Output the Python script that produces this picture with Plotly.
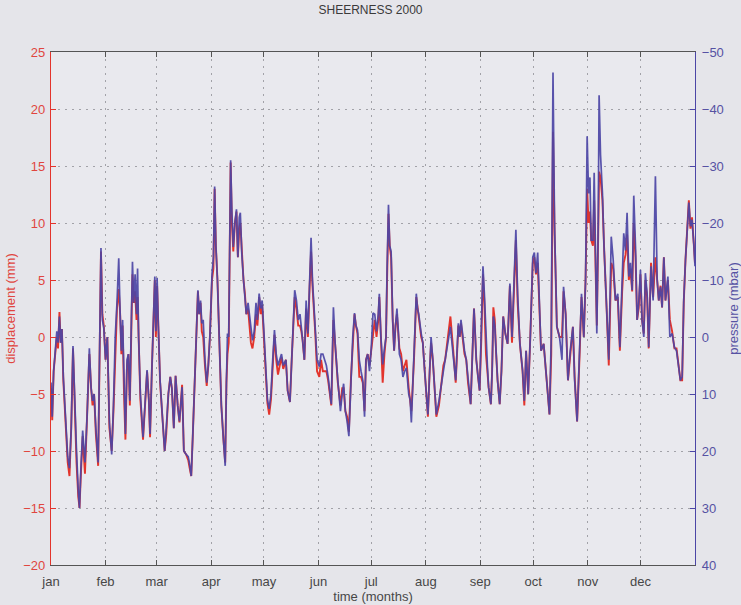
import plotly.graph_objects as go

# Day of year 2000 (0 = 1 Jan) at which each sample was read
days = [
    0, 0.7, 1.5, 2.5, 3.3, 4, 4.8, 5.5, 6.2, 7, 8, 9.5, 10.5, 11.5, 12.5, 13.3, 14.5, 15.5, 16.2, 17,
    18, 19.3, 20.5, 21.8, 22.8, 23.6, 24.5, 25.5, 26.8, 27.8, 28.4, 29.2, 30,
    31, 32, 33.2, 34.5, 35.5, 36.5, 37.5, 38.5, 39.3, 40, 40.7, 41.5, 42.3, 43.2, 44, 44.8, 45.5, 46.3,
    47, 47.8, 48.6, 49.2, 49.8, 50.8, 52.3, 53.3, 54.6, 55.6, 56.3, 57.3, 58.3, 59,
    59.6, 60.3, 61, 62, 63.3, 64.6, 65.5, 66.7, 67.8, 68.7, 69.8, 70.8, 72, 73, 74.5, 75.5, 76.8, 78,
    78.8, 79.7, 80.5, 81.5, 82.5, 83.5, 84.2, 85, 85.7, 86.5, 87.5, 88.5, 89.4, 90.3,
    91.5, 92.3, 93, 93.7, 94.6, 95.5, 96.8, 98, 99, 99.7, 100.3, 101, 101.6, 102.1, 102.8, 103.6, 104.5,
    105.4, 106.2, 107, 107.6, 108.4, 109.4, 110.2, 111, 112, 112.8, 113.6, 114.5, 115.5, 116.5, 117.3,
    118.3, 119.2, 120, 121, 122, 123, 124, 125,
    126, 127, 128, 129, 130, 131, 132, 133.5, 134.5, 135.8, 136.8, 137.8, 138.5, 139.5, 140.5, 141.5,
    142.3, 143, 144, 145, 146, 147, 147.8, 148.6, 149.3, 150.2, 151.2,
    152.5, 153.5, 154.5, 155.5, 156.5, 157.5, 158.5, 159.3, 160.5, 161.5, 163, 164.5, 165.5, 166.3,
    167.3, 168.3, 169.3, 170.5, 171.5, 172.5, 173.3, 174.2, 175.2, 176.2, 177.2, 178.2, 179, 180, 181,
    182, 183, 184, 185, 186, 186.6, 187.5, 188.5, 189.5, 190.4, 191, 191.8, 192.5, 193.3, 194.2, 195,
    195.8, 196.6, 197.3, 198, 199, 200, 201, 202, 203.3, 204.1, 204.8, 205.5, 206.3, 207.6, 208.3, 209,
    210.4, 211.3, 212.3,
    213.2, 214.2, 215.2, 216, 217, 218, 219, 220.5, 222, 223, 224, 225.7, 227, 228.5, 229.3, 230,
    231.5, 232.3, 233, 234, 235, 236, 237, 238.5, 239.5, 240.4, 241, 241.7, 242.7, 243.6,
    244.6, 245.5, 246.3, 247.2, 248, 248.7, 250, 250.7, 251.4, 252.2, 253, 253.8, 255, 256, 257, 258.2,
    259.5, 260.8, 262, 263.3, 264.2, 265.2, 266.5, 268, 269, 270, 271.2, 272.4, 273.1,
    273.8, 274.7, 275.6, 276.6, 277.6, 278.5, 280, 281.4, 282.4, 283.3, 284.3, 284.7, 285.3, 286.2,
    287, 287.5, 289, 290.4, 291.3, 292.5, 293.8, 295.1, 296.6, 297.6, 299, 300.5, 301.5, 302.8, 303.8,
    304.7, 305.5, 306.3, 307, 308, 308.7, 309.5, 310.2, 311, 311.5, 312.3, 313.4, 314.3, 315.2, 315.8,
    317, 318.4, 319.5, 320.8, 322.1, 323.3, 324.6, 325.5, 326.5, 327.4, 328.4, 329.3, 330.3, 331.2,
    332.2, 333.1, 334,
    335, 335.9, 336.9, 337.8, 338.8, 339.7, 341, 342.2, 343.5, 344.5, 345.4, 346.4, 347.3, 348.3,
    349.2, 350.6, 351.7, 353, 354.3, 355.5, 356.8, 357.7, 358.7, 359.6, 360.6, 361.5, 362.5, 363.4,
    364.3, 365.3, 366,
]

# Ground displacement (mm), left axis
displacement = [
    -4.5, -7.3, -3.0, -1.5, 0.0, -1.0, 2.2, -0.5, 0.7, -3.8, -6.5, -11.0, -12.2, -8.0, -1.0, -5.5, -11.0, -14.0, -15.0, -12.0,
    -8.7, -12.0, -7.5, -1.5, -4.5, -6.0, -5.0, -8.5, -11.3, 0.5, 7.5, 2.0, 1.0,
    -2.0, 0.0, -8.0, -10.0, -6.5, -1.0, 2.5, 4.2, 2.0, -1.5, 1.0, -5.0, -9.0, -2.5, -1.5, -6.0, -1.0, 5.5,
    3.0, 4.0, 1.5, 3.5, 0.0, -5.5, -9.0, -6.5, -3.0, -5.5, -8.8, -3.0, 3.0, 5.0,
    0.0, 4.5, 1.0, -4.0, -7.0, -10.0, -8.5, -5.0, -3.5, -4.5, -8.0, -3.4, -6.0, -7.5, -4.2, -10.0, -10.3, -10.8,
    -11.5, -12.2, -9.0, -4.0, 0.0, 4.0, 2.0, 3.0, 0.5, 0.0, -2.5, -4.3, -2.5, 0.0,
    5.0, 6.0, 13.0, 8.0, 5.0, 0.0, -6.0, -9.0, -11.0, -4.0, -1.5, -0.5, 8.0, 15.3, 10.0, 7.5, 10.0,
    11.0, 7.0, 9.5, 10.0, 7.2, 5.0, 3.8, 2.0, 2.5, 1.0, -0.5, -1.0, 0.0, 2.0, 1.0,
    3.5, 2.0, 2.8, 0.3, -3.0, -5.8, -6.8, -5.5,
    -2.5, 0.2, -2.0, -3.3, -2.5, -1.8, -2.8, -2.0, -4.7, -5.7, -2.0, 2.0, 3.5, 2.5, 1.0, 1.0,
    0.5, -0.3, -2.0, 2.5, 0.0, 4.5, 7.5, 4.5, 3.0, 0.3, -3.0,
    -3.5, -2.0, -3.0, -3.0, -3.0, -3.8, -5.0, -6.0, 1.5, -1.0, -4.0, -6.0, -4.5, -4.5,
    -6.5, -7.0, -8.3, -3.5, -0.5, 2.0, 1.0, 0.3, -3.5, -3.5, -4.0, -6.5, -2.0, -1.5, -2.5,
    -1.0, 0.5, 1.5, 0.0, 1.5, 3.5, 0.0, -4.0, -1.5, 0.0, 5.0, 10.8, 8.0, 7.0, 1.5, -1.2,
    1.0, 2.0, 0.5, -1.0, -1.5, -3.0, -2.5, -2.0, -4.5, -5.5, -6.5, -4.5, -2.0, 3.5, 2.5, 1.8,
    0.0, -0.5, -3.0,
    -5.0, -7.0, -3.0, -0.5, -2.0, -5.0, -7.0, -6.0, -3.5, -2.5, -2.0, 0.0, 1.8, -1.0, -2.5, -4.0,
    1.0, 0.0, 1.2, 0.0, -1.5, -2.0, -4.0, -5.9, -1.5, 2.5, 0.5, -2.0, -3.5, -4.7,
    0.0, 5.5, 3.0, -1.5, -3.0, -4.4, -5.9, -3.0, 2.6, 1.5, -1.5, -3.8, -5.9, -3.0, 1.8, 0.3,
    -0.6, 4.5, -0.5, 5.5, 8.5, 3.0, -0.6, -3.0, -6.0, -1.2, -5.0, 0.0, 3.5,
    6.5, 7.0, 5.5, 6.5, 2.5, -1.2, -0.6, -3.2, -5.0, -6.8, -1.5, 12.0, 18.0, 9.0,
    4.0, 0.9, 0.0, 0.0, 4.0, 2.0, -3.8, -1.5, 0.9, -3.5, -7.4, -1.2, 3.5, 0.0, 5.0,
    13.0, 10.0, 11.0, 8.5, 8.0, 12.0, 6.0, 1.0, 9.0, 14.5, 14.0, 12.0, 8.0, 5.0, 2.4,
    -2.5, 6.5, 6.0, 3.2, 3.5, -1.2, 4.0, 6.5, 7.2, 9.0, 5.0, 6.0, 4.0, 10.0,
    7.0, 1.5, 2.5,
    5.5, 1.5, 0.3, 5.0, 3.5, -1.0, 6.5, 3.5, 7.0, 5.0, 3.2, 4.5, 2.6, 7.0,
    3.2, 5.0, 1.5, 0.5, -1.0, -1.0, -3.0, -3.8, -3.8, 3.0, 6.8, 9.5, 12.0, 9.5,
    10.5, 8.2, 6.5,
]

# Air pressure anomaly (mbar), right axis (reversed)
pressure = [
    8.0, 14.0, 6.0, 2.0, -1.0, 1.0, -3.6, 1.0, -1.4, 7.0, 12.0, 21.0, 23.0, 16.0, 1.6, 10.0, 20.0, 27.0, 30.0, 23.0,
    16.4, 22.0, 14.0, 2.0, 9.0, 11.2, 10.0, 16.0, 22.0, -2.0, -15.6, -3.0, -1.6,
    4.0, 0.0, 15.0, 20.6, 12.0, 0.0, -6.0, -13.8, -4.0, 2.4, -3.0, 9.0, 17.0, 4.0, 3.0, 11.2, 2.0, -13.2,
    -6.0, -11.0, -4.0, -12.0, 0.0, 10.0, 17.6, 13.0, 5.8, 11.0, 17.0, 6.0, -7.0, -10.6,
    -1.0, -10.4, -2.0, 7.6, 14.0, 20.0, 16.0, 10.0, 7.0, 9.0, 16.0, 6.8, 12.0, 14.8, 8.8, 20.0, 20.6, 21.0,
    22.4, 24.4, 18.0, 8.0, 0.0, -8.2, -4.0, -6.4, -2.4, -3.0, 4.0, 8.0, 5.0, 0.0,
    -11.0, -14.0, -26.4, -16.0, -10.0, 0.0, 12.0, 18.0, 22.6, 8.0, -0.6, 0.0, -16.0, -31.0, -22.0, -15.8, -20.0,
    -22.4, -14.0, -21.0, -21.8, -14.8, -10.0, -7.0, -4.0, -6.0, -3.6, -1.0, 0.6, -1.0, -6.0, -3.0,
    -7.6, -5.0, -6.4, -1.0, 6.0, 11.0, 12.6, 10.0,
    4.0, -1.2, 3.0, 5.0, 4.0, 3.0, 5.0, 4.0, 9.4, 11.4, 4.0, -5.0, -8.2, -6.4, -3.0, -4.0,
    -2.0, 0.6, 4.0, -6.4, -0.6, -10.6, -17.4, -10.0, -6.4, -0.6, 4.0,
    5.2, 3.0, 3.0, 4.0, 5.0, 7.0, 10.0, 11.8, -5.2, 1.2, 7.6, 13.0, 10.0, 8.2,
    13.0, 14.8, 17.4, 7.0, 0.0, -4.2, -2.0, -1.2, 4.0, 6.0, 7.6, 14.0, 4.0, 3.0, 6.0,
    2.0, -4.2, -4.0, -1.0, -4.0, -7.6, 0.0, 4.8, 2.0, 0.0, -12.0, -23.2, -16.0, -15.0, -3.0, 2.4,
    -2.0, -5.0, -1.6, 3.0, 4.0, 7.0, 6.0, 5.4, 10.0, 11.0, 15.0, 9.0, 4.0, -7.6, -5.0, -4.0,
    -0.6, 1.0, 5.8,
    10.0, 13.6, 6.0, 0.0, 4.0, 9.0, 13.6, 11.2, 7.6, 6.0, 4.0, 0.6, -1.8, 3.0, 5.0, 7.6,
    -2.4, 0.0, -3.0, 0.0, 2.4, 4.0, 7.0, 11.8, 3.0, -5.0, -1.0, 4.0, 7.0, 9.4,
    -2.0, -12.4, -7.6, 0.0, 5.0, 8.8, 11.8, 6.0, -3.6, -2.0, 3.0, 7.6, 11.8, 6.0, -3.6, -0.6,
    1.2, -9.4, 0.0, -12.4, -18.8, -7.6, 1.2, 5.8, 11.2, 2.4, 10.0, 0.0, -8.0,
    -14.0, -14.8, -11.2, -14.8, -6.4, 2.4, 1.2, 6.4, 10.0, 13.6, 0.0, -28.0, -46.4, -19.4,
    -8.0, -1.8, 0.0, 4.0, -8.8, -4.0, 7.6, 2.4, -1.8, 7.6, 14.8, 2.4, -7.6, 0.0, -10.0,
    -35.2, -25.2, -28.0, -17.0, -17.0, -28.8, -14.0, -0.6, -20.0, -42.4, -32.0, -25.2, -15.8, -10.0, -4.8,
    4.0, -17.6, -13.6, -6.4, -7.6, 1.8, -8.8, -18.2, -15.2, -21.8, -10.6, -13.0, -8.2, -24.8,
    -15.8, -3.0, -5.8,
    -11.8, -3.0, 0.0, -11.2, -7.6, 1.8, -12.4, -6.4, -28.2, -10.0, -6.4, -8.8, -5.2, -14.0,
    -6.4, -10.6, 0.0, -0.6, 1.8, 2.4, 5.8, 7.6, 7.0, -6.4, -13.6, -18.2, -23.6, -19.4,
    -20.6, -16.4, -12.4,
]

month_starts = [0, 31, 60, 91, 121, 152, 182, 213, 244, 274, 305, 335]
month_labels = ["jan", "feb", "mar", "apr", "may", "jun", "jul", "aug", "sep", "oct", "nov", "dec"]

disp_ticks = [-20, -15, -10, -5, 0, 5, 10, 15, 20, 25]
pres_ticks = [-50, -40, -30, -20, -10, 0, 10, 20, 30, 40]

RED = "#e3342c"
BLUE = "#4c46a6"
RED_TXT = "#e0453f"
BLUE_TXT = "#5652a3"
GREY_TXT = "#474747"
GRID = "#a2a2a8"
FONT = "Liberation Sans, Arial, sans-serif"

fig = go.Figure()

fig.add_trace(go.Scatter(
    x=days, y=displacement, mode="lines", name="displacement",
    line=dict(color=RED, width=1.9), yaxis="y",
))
fig.add_trace(go.Scatter(
    x=days, y=pressure, mode="lines", name="pressure",
    line=dict(color=BLUE, width=1.7), yaxis="y2", opacity=0.92,
))

fig.update_layout(
    width=741, height=605,
    margin=dict(l=51, r=46, t=52, b=40, autoexpand=False),
    paper_bgcolor="#e5e5ea",
    plot_bgcolor="#e9e9ee",
    showlegend=False,
    font=dict(family=FONT, size=13, color=GREY_TXT),
    title=dict(text="SHEERNESS 2000", x=0.5, xanchor="center", y=0.99, yanchor="top",
               font=dict(size=12, color="#3a3a3a")),
    xaxis=dict(
        range=[0, 366], tickmode="array", tickvals=month_starts, ticktext=month_labels,
        ticks="inside", ticklen=5, tickcolor="#555", showline=True, linecolor="#555", linewidth=1.2,
        mirror="ticks", showgrid=True, gridcolor=GRID, griddash="2px,5px", gridwidth=1.2,
        zeroline=False, tickfont=dict(size=13, color=GREY_TXT), ticklabelstandoff=4,
        automargin=False,
        title=dict(text="time (months)", font=dict(size=13, color=GREY_TXT), standoff=3),
    ),
    yaxis=dict(
        range=[-20, 25], tickmode="array", tickvals=disp_ticks,
        ticks="inside", ticklen=5, tickcolor=RED, showline=True, linecolor=RED, linewidth=1.4,
        showgrid=True, gridcolor=GRID, griddash="2px,5px", gridwidth=1.2, zeroline=False,
        tickfont=dict(size=13, color=RED_TXT), ticklabelstandoff=2, automargin=False,
        title=dict(text="displacement (mm)", font=dict(size=13, color=RED_TXT), standoff=4),
    ),
    yaxis2=dict(
        range=[40, -50], overlaying="y", side="right", tickmode="array", tickvals=pres_ticks,
        ticks="inside", ticklen=5, tickcolor=BLUE, showline=True, linecolor=BLUE, linewidth=1.4,
        showgrid=False, zeroline=False, automargin=False,
        tickfont=dict(size=13, color=BLUE_TXT), ticklabelstandoff=3,
        title=dict(text="pressure (mbar)", font=dict(size=13, color=BLUE_TXT), standoff=14),
    ),
)

fig.write_html("out.html")
